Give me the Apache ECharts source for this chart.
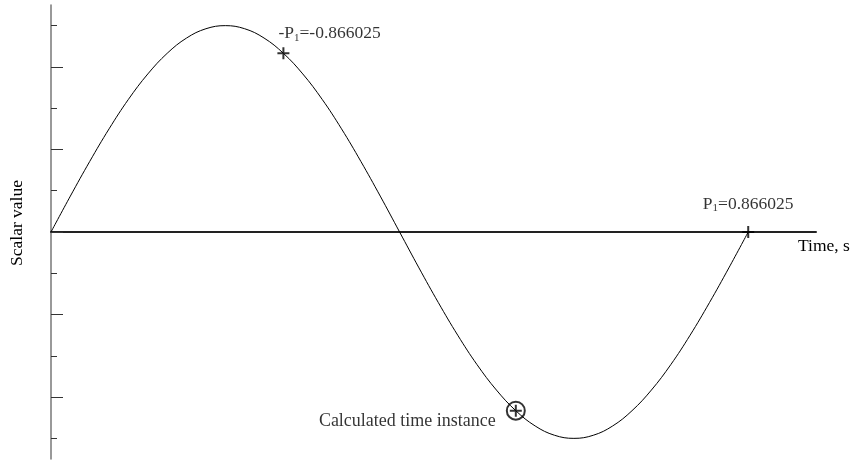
<!DOCTYPE html>
<html>
<head>
<meta charset="utf-8">
<script src="https://cdn.jsdelivr.net/npm/echarts@6/dist/echarts.min.js"></script>
<style>
  html, body { margin: 0; padding: 0; background: #fff; }
  #main { width: 853px; height: 461px; }
</style>
</head>
<body>
<div id="main"></div>
<script>
// phase (deg) of the curve and the scalar value
var phase = [0, 10, 20, 30, 40, 50, 60, 70, 80, 90, 100, 110, 120, 130, 140, 150, 160, 170, 180,
  190, 200, 210, 220, 230, 240, 250, 260, 270, 280, 290, 300, 310, 320, 330, 340, 350, 360];
var scalar = [0, 0.174, 0.342, 0.5, 0.643, 0.766, 0.866, 0.940, 0.985, 1, 0.985, 0.940, 0.866, 0.766, 0.643, 0.5, 0.342, 0.174, 0,
  -0.174, -0.342, -0.5, -0.643, -0.766, -0.866, -0.940, -0.985, -1, -0.985, -0.940, -0.866, -0.766, -0.643, -0.5, -0.342, -0.174, 0];

var shortTicks = [-1, -0.6, -0.2, 0.2, 0.6, 1];
var longTicks = [-0.8, -0.4, 0, 0.4, 0.8];

// marked points: [phase, value]
var plusPts = [[120, 0.866], [360, 0]];
var plusLabels = ['{t|-P}{s|1}{t|=-0.866025}', '{t|P}{s|1}{t|=0.866025}'];
var calcPt = [240, -0.866];
var calcLabel = 'Calculated time instance';

var font = 'Liberation Serif';
var fs = 17.5;
var rich = {
  t: {fontFamily: font, fontSize: fs, color: '#000'},
  s: {fontFamily: font, fontSize: 11, color: '#000', padding: [9, 0, 0, 0]}
};

var curve = phase.map(function (p, i) { return [p, scalar[i]]; });
var plusPath = 'path://M0,6L12,6M6,0L6,12';

var chart = echarts.init(document.getElementById('main'));
chart.setOption({
  animation: false,
  grid: {left: 51, right: 37, top: 5, bottom: 2, outerBoundsMode: 'none', containLabel: false},
  xAxis: {
    type: 'value', min: 0, max: 395,
    axisLine: {onZero: true, lineStyle: {color: '#222', width: 2}},
    axisTick: {show: false}, axisLabel: {show: false}, splitLine: {show: false},
    name: 'Time, s', nameLocation: 'end', nameGap: -18,
    nameTextStyle: {fontFamily: font, fontSize: fs, color: '#000', align: 'left', verticalAlign: 'top', padding: [5, 0, 0, 0]}
  },
  yAxis: [{
    type: 'value', min: -1.1, max: 1.1,
    axisLine: {lineStyle: {color: '#777', width: 1.5}},
    axisTick: {show: true, inside: true, length: 6, customValues: shortTicks, lineStyle: {color: '#333', width: 1}},
    axisLabel: {show: false}, splitLine: {show: false},
    name: 'Scalar value', nameLocation: 'middle', nameGap: 25, nameRotate: 90,
    nameTextStyle: {fontFamily: font, fontSize: fs, color: '#000', padding: [0, 0, 0, 18]}
  }, {
    type: 'value', min: -1.1, max: 1.1, position: 'left', offset: 0,
    axisLine: {show: false},
    axisTick: {show: true, inside: true, length: 12, customValues: longTicks, lineStyle: {color: '#333', width: 1}},
    axisLabel: {show: false}, splitLine: {show: false}
  }],
  series: [{
    type: 'line', data: curve, smooth: 0.4, symbol: 'none',
    lineStyle: {color: '#000', width: 1}
  }, {
    type: 'scatter', symbol: plusPath, symbolSize: 12,
    itemStyle: {color: 'transparent', borderColor: '#000', borderWidth: 2},
    data: plusPts.map(function (p, i) {
      return {
        value: p,
        label: {
          show: true, formatter: plusLabels[i], rich: rich,
          position: i === 0 ? 'right' : 'top',
          offset: i === 0 ? [-17, -20] : [0, -6]
        }
      };
    })
  }, {
    type: 'scatter', symbol: 'circle', symbolSize: 18,
    itemStyle: {color: 'transparent', borderColor: '#000', borderWidth: 2},
    data: [{
      value: calcPt,
      label: {show: true, formatter: calcLabel, position: 'left', offset: [-5, 11],
        fontFamily: font, fontSize: 18, color: '#000'}
    }]
  }, {
    type: 'scatter', symbol: plusPath, symbolSize: 12,
    itemStyle: {color: 'transparent', borderColor: '#000', borderWidth: 2},
    data: [calcPt]
  }]
});
</script>
</body>
</html>
